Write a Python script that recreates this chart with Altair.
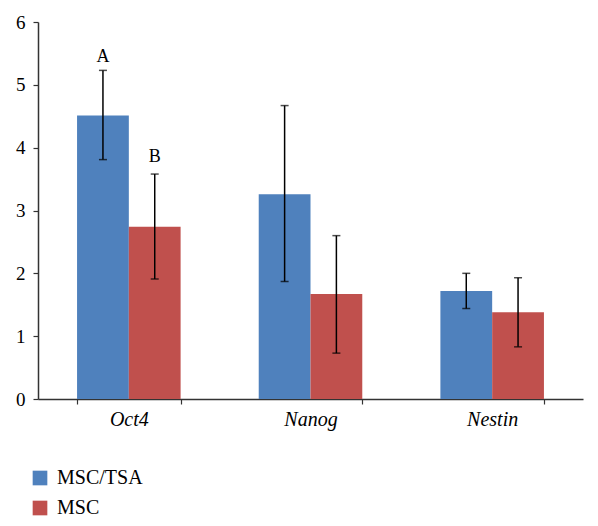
import altair as alt
import pandas as pd

genes = ["Oct4", "Nanog", "Nestin"]
groups = ["MSC/TSA", "MSC"]
tsa_mean = [4.51, 3.26, 1.72]
tsa_lo = [3.81, 1.87, 1.44]
tsa_hi = [5.23, 4.67, 2.00]
msc_mean = [2.74, 1.67, 1.38]
msc_lo = [1.91, 0.73, 0.83]
msc_hi = [3.58, 2.60, 1.93]
colors = ["#4F81BD", "#C0504D"]

letter_gene = ["Oct4", "Oct4"]
letter_group = ["MSC/TSA", "MSC"]
letter_text = ["A", "B"]
letter_y = [5.45, 3.85]

rows = []
for i, g in enumerate(genes):
    rows.append({"gene": g, "group": groups[0], "value": tsa_mean[i], "lo": tsa_lo[i], "hi": tsa_hi[i]})
    rows.append({"gene": g, "group": groups[1], "value": msc_mean[i], "lo": msc_lo[i], "hi": msc_hi[i]})
df = pd.DataFrame(rows)
ldf = pd.DataFrame({"gene": letter_gene, "group": letter_group, "text": letter_text, "y": letter_y})

FONT = "Liberation Serif"

xscale = alt.Scale(paddingInner=0.43, paddingOuter=0.215)
xoscale = alt.Scale(paddingInner=0, paddingOuter=0)
x = alt.X("gene:N", sort=genes, scale=xscale,
          axis=alt.Axis(title=None, labelAngle=0, tickBand="extent", labelFontStyle="italic", grid=False,
                        labelFont=FONT, labelFontSize=20, labelColor="#000", labelPadding=5,
                        domainColor="#333", domainWidth=1.5, tickColor="#333", tickSize=5, tickWidth=1.2))
xo = alt.XOffset("group:N", sort=groups, scale=xoscale)
yscale = alt.Scale(domain=[0, 6], nice=False)
yaxis = alt.Axis(title=None, values=[0, 1, 2, 3, 4, 5, 6], format="d", grid=False,
                 labelFont=FONT, labelFontSize=19, labelColor="#000", labelPadding=8,
                 domainColor="#333", domainWidth=1.5, tickColor="#333", tickSize=5, tickWidth=1.2)

base = alt.Chart(df)
bars = base.mark_bar().encode(
    x=x, xOffset=xo,
    y=alt.Y("value:Q", scale=yscale, axis=yaxis),
    color=alt.Color("group:N", sort=groups,
                    scale=alt.Scale(domain=groups, range=colors),
                    legend=alt.Legend(title=None, orient="none", legendX=-8, legendY=446,
                                      symbolType="square", symbolSize=215, symbolStrokeWidth=0,
                                      labelFont=FONT, labelFontSize=20, labelColor="#000",
                                      rowPadding=10, labelOffset=7)),
)
rule = base.mark_rule(color="#000", strokeWidth=1.5).encode(
    x=x, xOffset=xo, y=alt.Y("lo:Q", scale=yscale, axis=yaxis), y2="hi:Q")
cap_lo = base.mark_tick(color="#000", orient="horizontal", size=8, thickness=1.5).encode(
    x=x, xOffset=xo, y=alt.Y("lo:Q", scale=yscale, axis=yaxis))
cap_hi = base.mark_tick(color="#000", orient="horizontal", size=8, thickness=1.5).encode(
    x=x, xOffset=xo, y=alt.Y("hi:Q", scale=yscale, axis=yaxis))
letters = alt.Chart(ldf).mark_text(font=FONT, fontSize=18, color="#000").encode(
    x=x, xOffset=alt.XOffset("group:N", sort=groups, scale=xoscale),
    y=alt.Y("y:Q", scale=yscale, axis=yaxis), text="text:N")

chart = alt.layer(bars, rule, cap_lo, cap_hi, letters).properties(
    width=545, height=377,
    background="white",
    autosize=alt.AutoSizeParams(type="none"),
    padding={"left": 30, "top": 14, "right": 7, "bottom": 119},
).configure(font=FONT).configure_view(stroke=None).configure_axis(grid=False, labelFont=FONT).configure_legend(labelFont=FONT)

chart.save("out.html", embed_options={"renderer": "svg", "actions": False})
